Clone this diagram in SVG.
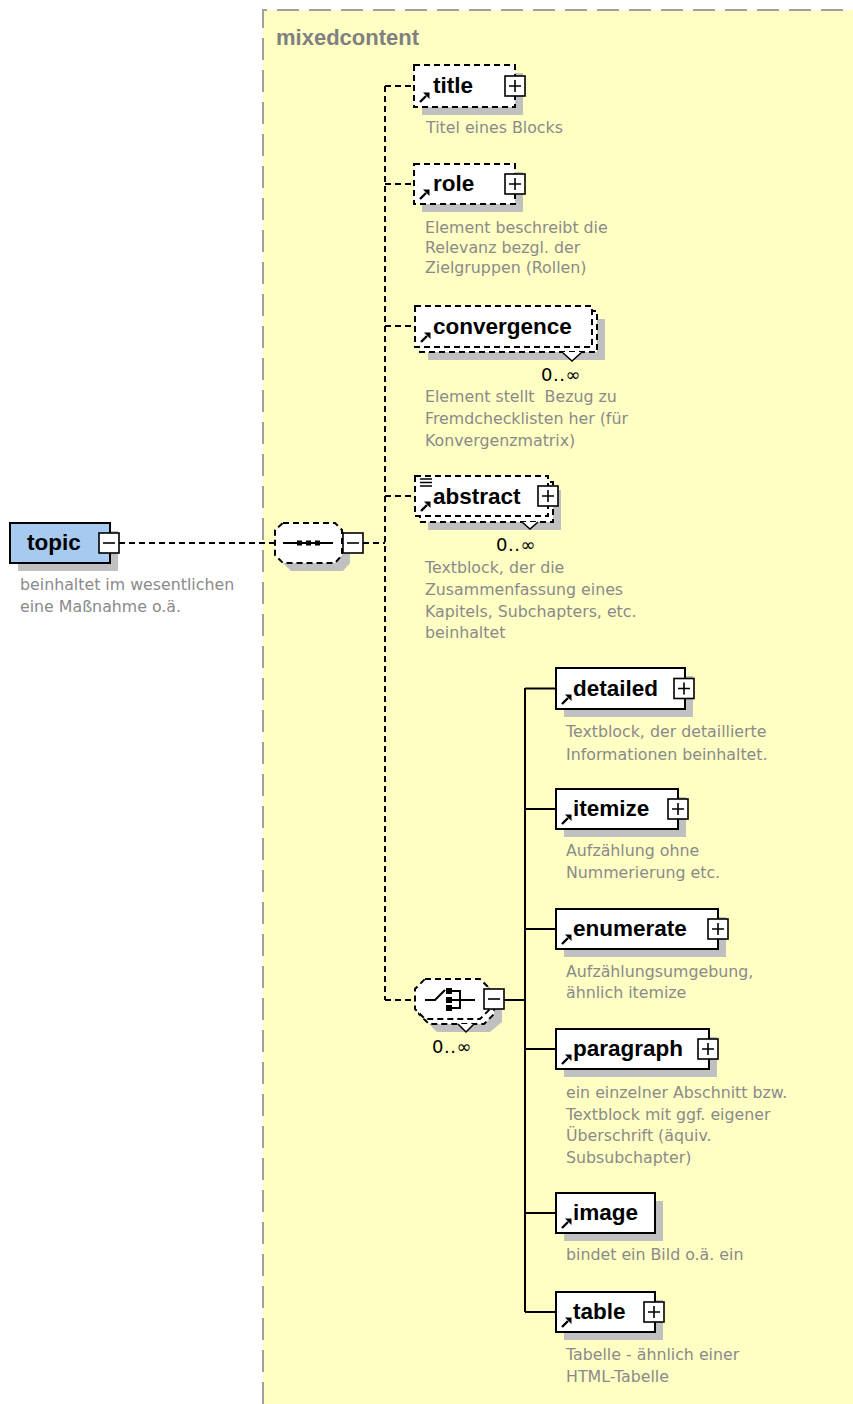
<svg xmlns="http://www.w3.org/2000/svg" xmlns:xlink="http://www.w3.org/1999/xlink" width="853" height="1404" viewBox="0 0 853 1404">
  <style>
    .el { fill: #fff; stroke: #000; stroke-width: 2; }
    .opt { fill: #fff; stroke: #000; stroke-width: 2; stroke-dasharray: 6 4; }
    .sh { fill: #c0c0c0; stroke: none; }
    .name { font-family: "Liberation Sans", Arial, sans-serif; font-weight: bold; font-size: 22.5px; fill: #000; }
    .desc { font-family: "DejaVu Sans", Verdana, sans-serif; font-size: 15.8px; fill: #8a8a8a; }
    .occ { font-family: "DejaVu Sans", Verdana, sans-serif; font-size: 18px; letter-spacing: 0.5px; fill: #000; }
    .grp { font-family: "Liberation Sans", Arial, sans-serif; font-weight: bold; font-size: 22px; fill: #808080; }
    .dash { fill: none; stroke: #000; stroke-width: 2; stroke-dasharray: 6 4; }
    .solid { fill: none; stroke: #000; stroke-width: 2; }
    .pmbox { fill: #fff; stroke: #000; stroke-width: 1.6; }
    .pmline { stroke: #000; stroke-width: 1.6; }
  </style>
  <defs>
    <g id="plus">
      <rect class="pmbox" x="-10" y="-10" width="20" height="20"/>
      <path class="pmline" d="M-6,0 H6 M0,-6 V6"/>
    </g>
    <g id="minus">
      <rect class="pmbox" x="-10" y="-10" width="20" height="20"/>
      <path class="pmline" d="M-6,0 H6"/>
    </g>
    <!-- reference arrow drawn at the lower left corner of a global element -->
    <g id="ref">
      <path d="M0,0 L6,-6" stroke="#000" stroke-width="2.4" fill="none"/>
      <polygon points="9.5,-9.5 3,-9.5 9.5,-3" fill="#000"/>
    </g>
  </defs>

  <rect x="0" y="0" width="853" height="1404" fill="#fff"/>

  <!-- model group area -->
  <g id="mixedcontent">
    <rect x="263" y="10" width="600" height="1400" fill="#ffffc4"/>
    <path d="M263,1404 V10 H853" fill="none" stroke="#a0a0a0" stroke-width="2" stroke-dasharray="22 10"/>
    <text class="grp" x="276" y="45">mixedcontent</text>
  </g>

  <!-- connectors -->
  <g id="connectors">
    <path class="dash" d="M119,543 H275 M363,543 H385 M385,86 V1000 M385,86 H414 M385,184 H414 M385,326 H415 M385,496 H415 M385,1000 H415"/>
    <path class="solid" d="M504,1000 H525 M525,688 V1312 M525,688.5 H556 M525,809 H556 M525,929 H556 M525,1049 H556 M525,1213 H556 M525,1312 H556"/>
  </g>

  <g id="topic">
    <rect class="sh" x="18" y="531" width="100" height="40"/>
    <rect x="10" y="523" width="100" height="40" fill="#a6caf0" stroke="#000" stroke-width="2"/>
    <text class="name" x="27" y="550">topic</text>
    <use xlink:href="#minus" x="109" y="543"/>
    <text class="desc" x="20" y="590">beinhaltet im wesentlichen</text>
    <text class="desc" x="20" y="612">eine Maßnahme o.ä.</text>
  </g>

  <g id="sequence">
    <polygon class="sh" points="291,531 343,531 350,538 350,563 343,571 291,571 283,563 283,538"/>
    <polygon class="opt" points="283,523 335,523 342,530 342,555 335,563 283,563 275,555 275,530"/>
    <path d="M283,543 H333" stroke="#000" stroke-width="2"/>
    <rect x="297" y="540.5" width="5" height="5" fill="#000"/>
    <rect x="306" y="540.5" width="5" height="5" fill="#000"/>
    <rect x="315" y="540.5" width="5" height="5" fill="#000"/>
    <use xlink:href="#minus" x="353" y="543"/>
  </g>

  <g id="title">
    <rect class="sh" x="422" y="73" width="101" height="42"/>
    <rect class="opt" x="414" y="65" width="101" height="42"/>
    <use xlink:href="#ref" x="420" y="102"/>
    <text class="name" x="433" y="93">title</text>
    <use xlink:href="#plus" x="515" y="86"/>
    <text class="desc" x="426" y="133">Titel eines Blocks</text>
  </g>

  <g id="role">
    <rect class="sh" x="422" y="172" width="101" height="40"/>
    <rect class="opt" x="414" y="164" width="101" height="40"/>
    <use xlink:href="#ref" x="420" y="199"/>
    <text class="name" x="433" y="191">role</text>
    <use xlink:href="#plus" x="515" y="184"/>
    <text class="desc" x="425" y="233">Element beschreibt die</text>
    <text class="desc" x="425" y="253">Relevanz bezgl. der</text>
    <text class="desc" x="425" y="273">Zielgruppen (Rollen)</text>
  </g>

  <g id="convergence">
    <rect class="sh" x="428" y="319" width="177" height="41"/>
    <rect class="opt" x="420" y="311" width="177" height="41"/>
    <path d="M562,352 L572,361 L582,352" fill="#fff" stroke="#000" stroke-width="1.5"/>
    <rect class="opt" x="415" y="306" width="177" height="41"/>
    <use xlink:href="#ref" x="421" y="342"/>
    <text class="name" x="433" y="334">convergence</text>
    <text class="occ" x="541" y="381">0..∞</text>
    <text class="desc" x="425" y="402">Element stellt&#160; Bezug zu</text>
    <text class="desc" x="425" y="424">Fremdchecklisten her (für</text>
    <text class="desc" x="425" y="446">Konvergenzmatrix)</text>
  </g>

  <g id="abstract">
    <rect class="sh" x="428" y="490" width="133" height="40"/>
    <rect class="opt" x="420" y="482" width="133" height="40"/>
    <path d="M522,522 L530,529 L538,522" fill="#fff" stroke="#000" stroke-width="1.5"/>
    <rect class="opt" x="415" y="476" width="133" height="40"/>
    <path d="M420,479 H432 M420,482.5 H432 M420,486 H432" stroke="#000" stroke-width="1.3"/>
    <use xlink:href="#ref" x="421" y="511"/>
    <text class="name" x="433" y="504">abstract</text>
    <use xlink:href="#plus" x="548" y="496"/>
    <text class="occ" x="496" y="551">0..∞</text>
    <text class="desc" x="425" y="573">Textblock, der die</text>
    <text class="desc" x="425" y="595">Zusammenfassung eines</text>
    <text class="desc" x="425" y="617">Kapitels, Subchapters, etc.</text>
    <text class="desc" x="425" y="638">beinhaltet</text>
  </g>

  <g id="choice">
    <polygon class="sh" points="437,992 490,992 502,1002 502,1022 490,1032 437,1032 427,1022 427,1002"/>
    <polygon class="opt" points="429,984 484,984 494,994 494,1014 484,1024 429,1024 419,1014 419,994"/>
    <path d="M458,1024 L466,1032 L474,1024" fill="#fff" stroke="#000" stroke-width="1.5"/>
    <polygon class="opt" points="425,979 480,979 490,989 490,1009 480,1019 425,1019 415,1009 415,989"/>
    <path d="M425,1000 H435 L445,990 M452,991 H460 V1008 H452 M452,1000 H475" fill="none" stroke="#000" stroke-width="2"/>
    <rect x="446" y="988" width="6" height="6" fill="#000"/>
    <rect x="446" y="997" width="6" height="6" fill="#000"/>
    <rect x="446" y="1005" width="6" height="6" fill="#000"/>
    <use xlink:href="#minus" x="494" y="999"/>
    <text class="occ" x="432" y="1053">0..∞</text>
  </g>

  <g id="detailed">
    <rect class="sh" x="564" y="676" width="129" height="41"/>
    <rect class="el" x="556" y="668" width="129" height="41"/>
    <use xlink:href="#ref" x="562" y="704"/>
    <text class="name" x="573" y="696">detailed</text>
    <use xlink:href="#plus" x="684" y="688.5"/>
    <text class="desc" x="566" y="737">Textblock, der detaillierte</text>
    <text class="desc" x="566" y="760">Informationen beinhaltet.</text>
  </g>

  <g id="itemize">
    <rect class="sh" x="564" y="797" width="122" height="40"/>
    <rect class="el" x="556" y="789" width="122" height="40"/>
    <use xlink:href="#ref" x="562" y="824"/>
    <text class="name" x="573" y="816">itemize</text>
    <use xlink:href="#plus" x="678" y="809"/>
    <text class="desc" x="566" y="856">Aufzählung ohne</text>
    <text class="desc" x="566" y="878">Nummerierung etc.</text>
  </g>

  <g id="enumerate">
    <rect class="sh" x="564" y="917" width="162" height="40"/>
    <rect class="el" x="556" y="909" width="162" height="40"/>
    <use xlink:href="#ref" x="562" y="944"/>
    <text class="name" x="573" y="936">enumerate</text>
    <use xlink:href="#plus" x="718" y="929"/>
    <text class="desc" x="566" y="977">Aufzählungsumgebung,</text>
    <text class="desc" x="566" y="998">ähnlich itemize</text>
  </g>

  <g id="paragraph">
    <rect class="sh" x="564" y="1037" width="153" height="40"/>
    <rect class="el" x="556" y="1029" width="153" height="40"/>
    <use xlink:href="#ref" x="562" y="1064"/>
    <text class="name" x="573" y="1056">paragraph</text>
    <use xlink:href="#plus" x="708" y="1049"/>
    <text class="desc" x="566" y="1098">ein einzelner Abschnitt bzw.</text>
    <text class="desc" x="566" y="1120">Textblock mit ggf. eigener</text>
    <text class="desc" x="566" y="1141">Überschrift (äquiv.</text>
    <text class="desc" x="566" y="1163">Subsubchapter)</text>
  </g>

  <g id="image">
    <rect class="sh" x="564" y="1201" width="99" height="40"/>
    <rect class="el" x="556" y="1193" width="99" height="40"/>
    <use xlink:href="#ref" x="562" y="1228"/>
    <text class="name" x="573" y="1220">image</text>
    <text class="desc" x="566" y="1260">bindet ein Bild o.ä. ein</text>
  </g>

  <g id="table">
    <rect class="sh" x="564" y="1300" width="99" height="40"/>
    <rect class="el" x="556" y="1292" width="99" height="40"/>
    <use xlink:href="#ref" x="562" y="1327"/>
    <text class="name" x="573" y="1319">table</text>
    <use xlink:href="#plus" x="654" y="1312"/>
    <text class="desc" x="566" y="1360">Tabelle - ähnlich einer</text>
    <text class="desc" x="566" y="1382">HTML-Tabelle</text>
  </g>
</svg>
